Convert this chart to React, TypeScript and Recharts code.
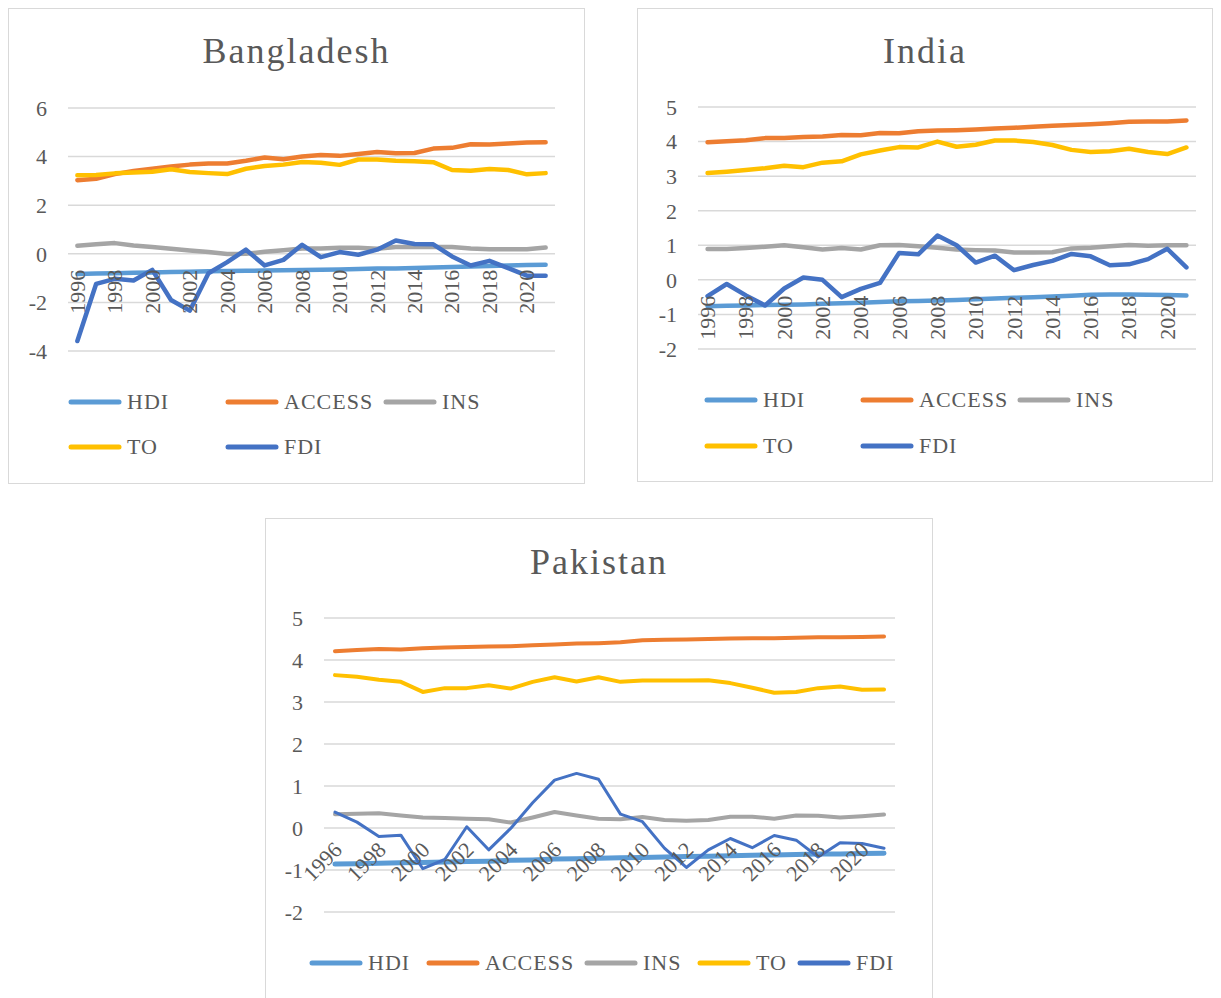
import React from 'react';
import { LineChart, Line, XAxis, YAxis, CartesianGrid } from 'recharts';

const years = [
  '1996', '1997', '1998', '1999', '2000', '2001', '2002', '2003', '2004',
  '2005', '2006', '2007', '2008', '2009', '2010', '2011', '2012', '2013',
  '2014', '2015', '2016', '2017', '2018', '2019', '2020', '2021',
];

const seriesNames = ['HDI', 'ACCESS', 'INS', 'TO', 'FDI'];
const seriesColors = ['#5B9BD5', '#ED7D31', '#A5A5A5', '#FFC000', '#4472C4'];

// Bangladesh
const bdHDI = [-0.83, -0.81, -0.8, -0.78, -0.77, -0.75, -0.74, -0.72, -0.71, -0.7, -0.69, -0.68, -0.67, -0.66, -0.65, -0.63, -0.61, -0.6, -0.58, -0.56, -0.54, -0.52, -0.5, -0.48, -0.46, -0.45];
const bdACCESS = [3.03, 3.09, 3.28, 3.41, 3.5, 3.59, 3.67, 3.72, 3.72, 3.83, 3.96, 3.89, 4.0, 4.07, 4.03, 4.11, 4.19, 4.14, 4.15, 4.33, 4.36, 4.51, 4.5, 4.54, 4.58, 4.59];
const bdINS = [0.33, 0.39, 0.44, 0.34, 0.28, 0.21, 0.14, 0.07, -0.01, 0.0, 0.08, 0.15, 0.22, 0.22, 0.25, 0.25, 0.21, 0.28, 0.28, 0.28, 0.28, 0.22, 0.19, 0.19, 0.19, 0.26];
const bdTO = [3.23, 3.24, 3.31, 3.35, 3.38, 3.48, 3.37, 3.32, 3.28, 3.5, 3.61, 3.67, 3.78, 3.75, 3.66, 3.88, 3.88, 3.83, 3.81, 3.77, 3.45, 3.42, 3.49, 3.45, 3.27, 3.32];
const bdFDI = [-3.59, -1.24, -1.03, -1.1, -0.66, -1.9, -2.34, -0.8, -0.34, 0.17, -0.48, -0.25, 0.37, -0.14, 0.07, -0.04, 0.17, 0.55, 0.4, 0.39, -0.11, -0.48, -0.29, -0.59, -0.9, -0.9];

// India
const inHDI = [-0.76, -0.75, -0.74, -0.73, -0.72, -0.71, -0.69, -0.68, -0.66, -0.64, -0.62, -0.61, -0.6, -0.58, -0.56, -0.54, -0.52, -0.5, -0.48, -0.46, -0.43, -0.42, -0.42, -0.43, -0.44, -0.45];
const inACCESS = [3.98, 4.01, 4.04, 4.1, 4.1, 4.13, 4.15, 4.19, 4.18, 4.25, 4.24, 4.3, 4.32, 4.33, 4.35, 4.38, 4.4, 4.43, 4.46, 4.48, 4.5, 4.53, 4.57, 4.58, 4.58, 4.61];
const inINS = [0.89, 0.89, 0.92, 0.96, 1.0, 0.94, 0.88, 0.92, 0.88, 1.0, 1.01, 0.97, 0.93, 0.88, 0.86, 0.85, 0.79, 0.79, 0.8, 0.91, 0.93, 0.97, 1.01, 0.99, 1.0, 1.0];
const inTO = [3.09, 3.13, 3.18, 3.23, 3.3, 3.26, 3.39, 3.43, 3.63, 3.74, 3.84, 3.83, 4.0, 3.85, 3.91, 4.03, 4.03, 3.99, 3.9, 3.76, 3.7, 3.72, 3.79, 3.7, 3.64, 3.83];
const inFDI = [-0.47, -0.12, -0.45, -0.74, -0.25, 0.07, 0.0, -0.5, -0.26, -0.09, 0.78, 0.74, 1.28, 1.0, 0.5, 0.7, 0.28, 0.43, 0.55, 0.75, 0.68, 0.42, 0.45, 0.6, 0.9, 0.36];

// Pakistan
const pkHDI = [-0.86, -0.85, -0.84, -0.83, -0.82, -0.81, -0.8, -0.79, -0.77, -0.76, -0.74, -0.73, -0.72, -0.71, -0.7, -0.69, -0.68, -0.67, -0.66, -0.65, -0.64, -0.63, -0.62, -0.62, -0.61, -0.6];
const pkACCESS = [4.21, 4.24, 4.26, 4.25, 4.28, 4.3, 4.31, 4.32, 4.33, 4.35, 4.37, 4.39, 4.4, 4.42, 4.47, 4.48, 4.49, 4.5, 4.51, 4.52, 4.52, 4.53, 4.54, 4.54, 4.55, 4.56];
const pkINS = [0.33, 0.34, 0.35, 0.3, 0.25, 0.24, 0.22, 0.21, 0.13, 0.25, 0.38, 0.3, 0.22, 0.21, 0.26, 0.19, 0.17, 0.19, 0.27, 0.27, 0.22, 0.3, 0.29, 0.25, 0.28, 0.32];
const pkTO = [3.64, 3.6, 3.53, 3.48, 3.24, 3.33, 3.33, 3.4, 3.32, 3.48, 3.59, 3.49, 3.59, 3.48, 3.51, 3.51, 3.51, 3.52, 3.45, 3.34, 3.22, 3.24, 3.33, 3.37, 3.29, 3.3];
const pkFDI = [0.38, 0.14, -0.2, -0.17, -0.97, -0.75, 0.03, -0.52, -0.01, 0.6, 1.14, 1.3, 1.16, 0.33, 0.15, -0.48, -0.94, -0.52, -0.25, -0.47, -0.18, -0.29, -0.69, -0.35, -0.37, -0.48];

const bdTicks = [-4, -2, 0, 2, 4, 6];
const inTicks = [-2, -1, 0, 1, 2, 3, 4, 5];
const pkTicks = [-2, -1, 0, 1, 2, 3, 4, 5];

const FONT = '"Liberation Serif", "Times New Roman", serif';
const TEXT = '#595959';
const GRID = '#d9d9d9';
const AXIS_H = 20;

function buildRows(values: number[][]) {
  return years.map((year, i) => {
    const row: Record<string, any> = { year };
    seriesNames.forEach((n, k) => {
      row[n] = values[k][i];
    });
    return row;
  });
}

interface PanelCfg {
  title: string;
  values: number[][];
  ticks: number[];
  left: number;
  top: number;
  width: number;
  height: number;
  plotLeft: number;
  mTop: number;
  mRight: number;
  mBottom: number;
  titleY: number;
  lineWidths: number[];
  legend: { x: number; y: number }[];
  angle: number;
}

function Panel({ cfg }: { cfg: PanelCfg }) {
  const rows = buildRows(cfg.values);
  const min = cfg.ticks[0];
  const max = cfg.ticks[cfg.ticks.length - 1];
  const plotH = cfg.height - cfg.mTop - cfg.mBottom;
  const plotW = cfg.width - cfg.plotLeft - cfg.mRight;
  const zeroY = cfg.mTop + (plotH * max) / (max - min);
  const half = plotW / years.length / 2;

  const renderXTick = (props: any) => {
    const { x, payload } = props;
    if (cfg.angle === -90) {
      const ty = zeroY + 16;
      return (
        <text x={x} y={ty} transform={`rotate(-90 ${x} ${ty})`} textAnchor="end"
          dominantBaseline="central" fill={TEXT} fontSize={22} fontFamily={FONT}>
          {payload.value}
        </text>
      );
    }
    const tx = x + 3;
    const ty = zeroY + 18;
    return (
      <text x={tx} y={ty} transform={`rotate(-45 ${tx} ${ty})`} textAnchor="end"
        dominantBaseline="central" fill={TEXT} fontSize={22} fontFamily={FONT}>
        {payload.value}
      </text>
    );
  };

  return (
    <div
      style={{
        position: 'absolute',
        left: cfg.left,
        top: cfg.top,
        width: cfg.width,
        height: cfg.height,
        background: '#fff',
        boxShadow: `inset 0 0 0 1px ${GRID}`,
      }}
    >
      <div style={{ position: 'absolute', left: 0, top: 0 }}>
        <LineChart
          width={cfg.width}
          height={cfg.height}
          data={rows}
          margin={{ top: cfg.mTop, right: cfg.mRight, bottom: cfg.mBottom - AXIS_H, left: 0 }}
        >
          <CartesianGrid vertical={false} stroke={GRID} strokeWidth={1.5} />
          <XAxis
            dataKey="year"
            interval={1}
            axisLine={false}
            tickLine={false}
            height={AXIS_H}
            padding={{ left: half, right: half }}
            tick={renderXTick}
          />
          <YAxis
            type="number"
            domain={[min, max]}
            ticks={cfg.ticks}
            width={cfg.plotLeft}
            axisLine={false}
            tickLine={false}
            tickSize={0}
            tickMargin={21}
            tick={{ fill: TEXT, fontSize: 22, fontFamily: FONT }}
          />
          {seriesNames.map((name, k) => (
            <Line
              key={name}
              type="linear"
              dataKey={name}
              stroke={seriesColors[k]}
              strokeWidth={cfg.lineWidths[k]}
              strokeLinecap="round"
              strokeLinejoin="round"
              dot={false}
              activeDot={false}
              isAnimationActive={false}
            />
          ))}
        </LineChart>
      </div>
      <svg
        width={cfg.width}
        height={cfg.height}
        style={{ position: 'absolute', left: 0, top: 0, pointerEvents: 'none' }}
      >
        <text x={cfg.width / 2} y={cfg.titleY} textAnchor="middle" fill={TEXT}
          fontSize={36} fontFamily={FONT} letterSpacing={2}>
          {cfg.title}
        </text>
        {seriesNames.map((name, k) => {
          const p = cfg.legend[k];
          return (
            <g key={name}>
              <line x1={p.x + 3} x2={p.x + 51} y1={p.y} y2={p.y} stroke={seriesColors[k]}
                strokeWidth={5} strokeLinecap="round" />
              <text x={p.x + 59} y={p.y + 7} fill={TEXT} fontSize={22} fontFamily={FONT}
                letterSpacing={1}>
                {name}
              </text>
            </g>
          );
        })}
      </svg>
    </div>
  );
}

const panels: PanelCfg[] = [
  {
    title: 'Bangladesh',
    values: [bdHDI, bdACCESS, bdINS, bdTO, bdFDI],
    ticks: bdTicks,
    left: 8, top: 8, width: 577, height: 476,
    plotLeft: 60, mTop: 100, mRight: 30, mBottom: 133,
    titleY: 55,
    lineWidths: [4.5, 4.5, 4.5, 4.5, 4.5],
    legend: [{ x: 60, y: 394 }, { x: 217, y: 394 }, { x: 375, y: 394 }, { x: 60, y: 439 }, { x: 217, y: 439 }],
    angle: -90,
  },
  {
    title: 'India',
    values: [inHDI, inACCESS, inINS, inTO, inFDI],
    ticks: inTicks,
    left: 637, top: 8, width: 576, height: 474,
    plotLeft: 61, mTop: 99, mRight: 17, mBottom: 133,
    titleY: 55,
    lineWidths: [4.5, 4.5, 4.5, 4.5, 4.5],
    legend: [{ x: 67, y: 392 }, { x: 223, y: 392 }, { x: 380, y: 392 }, { x: 67, y: 438 }, { x: 223, y: 438 }],
    angle: -90,
  },
  {
    title: 'Pakistan',
    values: [pkHDI, pkACCESS, pkINS, pkTO, pkFDI],
    ticks: pkTicks,
    left: 265, top: 518, width: 668, height: 490,
    plotLeft: 59, mTop: 100, mRight: 38, mBottom: 96,
    titleY: 56,
    lineWidths: [5, 4, 4, 4, 3],
    legend: [{ x: 44, y: 445 }, { x: 161, y: 445 }, { x: 319, y: 445 }, { x: 432, y: 445 }, { x: 532, y: 445 }],
    angle: -45,
  },
];

export default function App() {
  return (
    <div style={{ position: 'fixed', left: 0, top: 0, width: 1221, height: 998, overflow: 'hidden', background: '#fff' }}>
      {panels.map((p) => (
        <Panel key={p.title} cfg={p} />
      ))}
    </div>
  );
}
